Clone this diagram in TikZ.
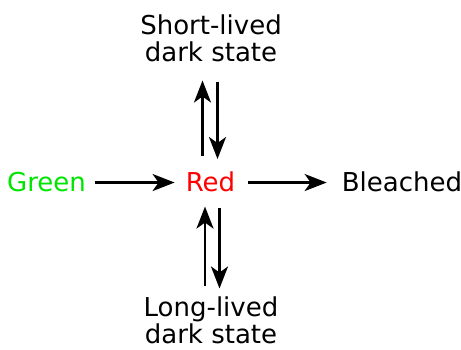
\documentclass[tikz,border=0pt]{standalone}
\usepackage{fontspec}
\setmainfont{DejaVu Sans}
\usetikzlibrary{arrows.meta}

\begin{document}
\begin{tikzpicture}[x=1pt,y=1pt,
  every node/.style={inner sep=0pt, align=center, font=\fontsize{26}{27}\selectfont},
  flow/.style={line width=2.6pt, -{Stealth[length=22pt,width=17pt,inset=6pt]}}]
\useasboundingbox (0,0) rectangle (461,350);

\node[anchor=base, green!90!black] (green) at (46.5,158) {Green};
\node[anchor=base, red] (red) at (210.5,158) {Red};
\node[anchor=base] (bleached) at (402,158) {Bleached};
\node[anchor=north] (short) at (211,335) {Short-lived\\dark state};
\node[anchor=north] (long) at (211,53.5) {Long-lived\\dark state};

\draw[flow,shorten <=9pt,shorten >=11pt] (green.east) -- (green.east -| red.west);
\draw[flow,shorten <=13pt,shorten >=15pt] (red.east |- green.east) -- (green.east -| bleached.west);

\draw[flow,shorten <=16pt,shorten >=18pt] ([xshift=-8pt]red.north) -- ([xshift=-8pt]red.north |- short.south);
\draw[flow,shorten <=19pt,shorten >=13pt] ([xshift=7pt]red.north |- short.south) -- ([xshift=7pt]red.north);

\draw[flow,shorten <=10pt,shorten >=14pt] ([xshift=-5.5pt]red.south |- long.north) -- ([xshift=-5.5pt]red.south);
\draw[flow,shorten <=15pt,shorten >=8pt] ([xshift=9pt]red.south) -- ([xshift=9pt]red.south |- long.north);

\end{tikzpicture}
\end{document}
